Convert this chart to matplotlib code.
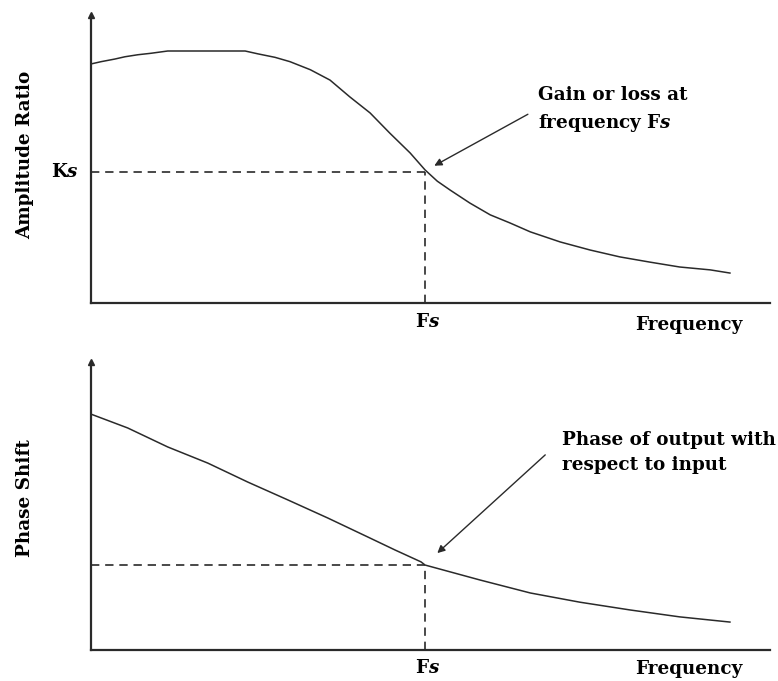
import numpy as np
import matplotlib
matplotlib.use('Agg')
import matplotlib.pyplot as plt

# DATA ------------------------------------------------------------------------------------------>
# frequency axis runs 0..100 (arbitrary units), response axis 0..100 (arbitrary units)
amp_freq = [0.0, 1.5, 3.5, 5.0, 6.9, 8.8, 11.3, 22.7, 24.6, 27.1, 29.3, 32.3, 35.2, 38.1,
            41.1, 44.0, 47.0, 49.2, 51.0, 52.9, 55.8, 58.8, 61.7, 64.7, 69.1, 73.5, 77.9,
            82.3, 86.7, 91.2, 94.1]
amp_ratio = [83.0, 83.8, 84.7, 85.5, 86.2, 86.7, 87.5, 87.5, 86.5, 85.3, 83.8, 81.0, 77.4,
             71.6, 66.0, 59.0, 52.1, 46.2, 42.3, 39.2, 34.7, 30.6, 27.8, 24.7, 21.2, 18.4,
             16.0, 14.2, 12.5, 11.5, 10.4]

phase_freq = [0.0, 5.4, 11.3, 17.2, 23.1, 29.0, 34.9, 40.8, 44.8, 48.6, 49.2, 57.3, 64.7,
              72.0, 79.4, 86.7, 94.1]
phase_shift = [81.9, 77.1, 70.5, 64.9, 58.3, 52.1, 45.8, 39.2, 34.7, 30.6, 29.5, 24.3, 19.8,
               16.6, 13.9, 11.5, 9.7]

fs = 49.2          # frequency Fs
ks = 45.5          # amplitude ratio at Fs
phase_at_fs = 29.5

top_note = 'Gain or loss at\nfrequency F$\\mathit{s}$'
bottom_note = 'Phase of output with\nrespect to input'

# STYLE ----------------------------------------------------------------------------------------->
plt.rcParams['font.family'] = ['DejaVu Serif']
plt.rcParams['font.weight'] = 'bold'
plt.rcParams['mathtext.fontset'] = 'custom'
plt.rcParams['mathtext.rm'] = 'DejaVu Serif:bold'
plt.rcParams['mathtext.it'] = 'DejaVu Serif:italic:bold'
ink = '#2a2a2a'
fsize = 13.2

fig = plt.figure(figsize=(7.78, 6.81), dpi=100)
ax1 = fig.add_axes([91/778, 1-303/681, 679/778, 288/681])
ax2 = fig.add_axes([91/778, 1-650/681, 679/778, 288/681])


def setup(ax, ylabel, ylabel_y, fs_y, freq_y):
    ax.set_xlim(0, 100)
    ax.set_ylim(0, 100)
    for s in ['top', 'right']:
        ax.spines[s].set_visible(False)
    for s in ['left', 'bottom']:
        ax.spines[s].set_linewidth(1.6)
        ax.spines[s].set_color(ink)
    ax.set_xticks([])
    ax.set_yticks([])
    ax.plot(0, 100, marker='^', ms=5, color=ink, clip_on=False)
    ax.text(-9.7, ylabel_y, ylabel, rotation=90, ha='center', va='center',
            fontsize=fsize, fontweight='bold', color='black')
    ax.text(fs + 0.4, fs_y, r'F$\mathit{s}$', ha='center', va='center', fontsize=fsize,
            fontweight='bold')
    ax.text(88.0, freq_y, 'Frequency', ha='center', va='center', fontsize=fsize,
            fontweight='bold')


# AMPLITUDE PANEL ------------------------------------------------------------------------------->
setup(ax1, 'Amplitude Ratio', 51.4, -6.6, -7.6)
ax1.plot(amp_freq, amp_ratio, color=ink, lw=1.1)
ax1.plot([0, fs], [ks, ks], ls=(0, (5, 3.5)), color=ink, lw=1.2)
ax1.plot([fs, fs], [0, ks], ls=(0, (5, 3.5)), color=ink, lw=1.2)
ax1.text(-1.8, ks, r'K$\mathit{s}$', ha='right', va='center', fontsize=fsize, fontweight='bold')
ax1.annotate('', xy=(50.2, 47.2), xytext=(64.7, 66.0),
             arrowprops=dict(arrowstyle='-|>', lw=1.0, color=ink, mutation_scale=11))
ax1.text(65.8, 67.0, top_note, ha='left', va='center', fontsize=fsize,
         fontweight='bold', linespacing=1.5)

# PHASE PANEL ----------------------------------------------------------------------------------->
setup(ax2, 'Phase Shift', 52.8, -6.3, -6.5)
ax2.plot(phase_freq, phase_shift, color=ink, lw=1.1)
ax2.plot([0, fs], [phase_at_fs, phase_at_fs], ls=(0, (5, 3.5)), color=ink, lw=1.2)
ax2.plot([fs, fs], [0, phase_at_fs], ls=(0, (5, 3.5)), color=ink, lw=1.2)
ax2.annotate('', xy=(50.7, 33.0), xytext=(67.2, 68.4),
             arrowprops=dict(arrowstyle='-|>', lw=1.0, color=ink, mutation_scale=11))
ax2.text(69.4, 68.6, bottom_note, ha='left', va='center', fontsize=fsize,
         fontweight='bold', linespacing=1.5)

fig.savefig('out.png', dpi=100, facecolor='white')
